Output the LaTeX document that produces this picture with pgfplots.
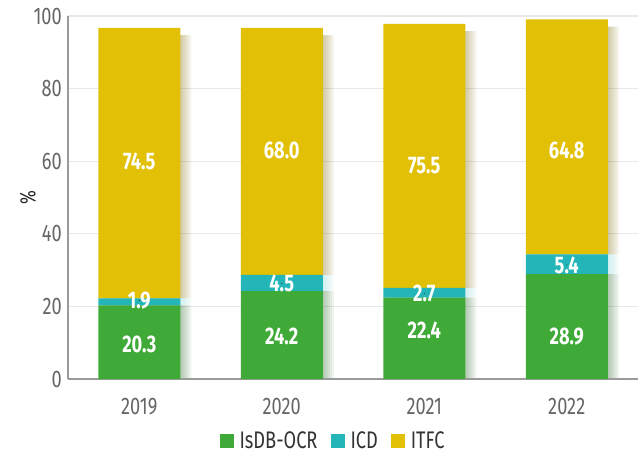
\documentclass[border=0pt]{standalone}
\usepackage{fontspec}
\setmainfont{Fira Sans}[FakeStretch=0.76]
\usepackage{pgfplots}
\pgfplotsset{compat=1.18}
\usepackage{pgfplotstable}
\definecolor{cgreen}{HTML}{3FAA38}
\definecolor{cteal}{HTML}{24B5B8}
\definecolor{cyell}{HTML}{E1C006}
\definecolor{tickgray}{HTML}{666666}
\definecolor{axgray}{HTML}{9A9A9A}
\definecolor{gridgray}{HTML}{E8E8E8}

\pgfplotstableread{
x ocr icd itfc
0 20.3 1.9 74.5
1 24.2 4.5 68.0
2 22.4 2.7 72.7
3 28.9 5.4 64.8
}\bars

\pgfplotstableread{
x y lab
0 9.6 20.3
1 11.7 24.2
2 13.3 22.4
3 11.7 28.9
0 21.6 1.9
1 26.3 4.5
2 23.6 2.7
3 31.4 5.4
0 59.9 74.5
1 62.9 68.0
2 58.8 75.5
3 62.9 64.8
}\labs

\newcommand\bigfont{\fontsize{24bp}{28bp}\selectfont}

\pgfplotsset{
  base/.style={width=570bp, height=363bp, scale only axis, at={(0,0)}, anchor=south west,
    xmin=-0.5, xmax=3.5, ymin=0, ymax=100},
  sq/.style={legend image code/.code={\fill[##1] (0bp,-7bp) rectangle (14bp,7bp);}},
}

\begin{document}
\begin{tikzpicture}
\useasboundingbox (-68bp,-79bp) rectangle (576bp,379bp);
% grid
\begin{axis}[base, axis line style={draw=none}, xtick=\empty, ytick={20,40,...,100},
  yticklabels={}, ytick style={draw=none}, ymajorgrids, grid style={gridgray, line width=1.2bp}]
\addplot[draw=none] coordinates {(0,0)};
\end{axis}
% shadows
\foreach \s in {1,3,5,7,9,11}{
\begin{axis}[base, hide axis, ybar stacked, bar width=82bp, bar shift=\s bp]
\addplot[fill=cgreen!60!black, draw=none, fill opacity=0.07] table[x=x,y=ocr]{\bars};
\addplot[fill=cteal!70!white, draw=none, fill opacity=0.06] table[x=x,y=icd]{\bars};
\addplot[fill=cyell!55!black, draw=none, fill opacity=0.07] table[x=x,y expr=\thisrow{itfc}-2]{\bars};
\end{axis}
}
% main bars
\begin{axis}[base, ybar stacked, bar width=82bp,
  axis lines=left, axis line style={-, draw=axgray, line width=1.2bp},
  tick align=inside,
  xtick={0,1,2,3}, xticklabels={2019,2020,2021,2022},
  major x tick style={draw=none},
  extra x ticks={0.5,1.5,2.5,3.5}, extra x tick labels={},
  extra x tick style={major tick length=9bp, tick style={draw=axgray, line width=1bp}},
  ytick={0,20,...,100}, ytick style={draw=none},
  /pgf/number format/assume math mode=true,
  tick label style={font=\bigfont, text=tickgray, inner sep=0pt},
  yticklabel style={xshift=-6bp},
  xticklabel style={yshift=-19bp},
  ylabel={\%}, ylabel style={at={(axis description cs:-0.0702,0.5)}, anchor=center, font=\fontsize{22bp}{26bp}\selectfont, text=black!85},
  legend style={at={(0.465,-0.171)}, anchor=center, draw=none, fill=none, legend columns=-1,
    font=\bigfont, text=black!80, nodes={inner sep=1.5bp},
    /tikz/every odd column/.append style={column sep=4bp},
    /tikz/every even column/.append style={column sep=12bp}},
  legend cell align=left,
]
\addplot[fill=cgreen, draw=none, sq] table[x=x,y=ocr]{\bars};
\addplot[fill=cteal, draw=none, sq] table[x=x,y=icd]{\bars};
\addplot[fill=cyell, draw=none, sq] table[x=x,y=itfc]{\bars};
\legend{IsDB-OCR, ICD, ITFC}
\end{axis}
% value labels
\begin{axis}[base, hide axis]
\addplot[only marks, mark=*, mark size=0.1pt, mark options={draw=none, fill=none},
  nodes near coords, point meta=explicit symbolic,
  nodes near coords style={anchor=center, text=white, font=\bigfont\bfseries, inner sep=0pt}]
  table[x=x, y=y, meta=lab]{\labs};
\end{axis}
\end{tikzpicture}
\end{document}
